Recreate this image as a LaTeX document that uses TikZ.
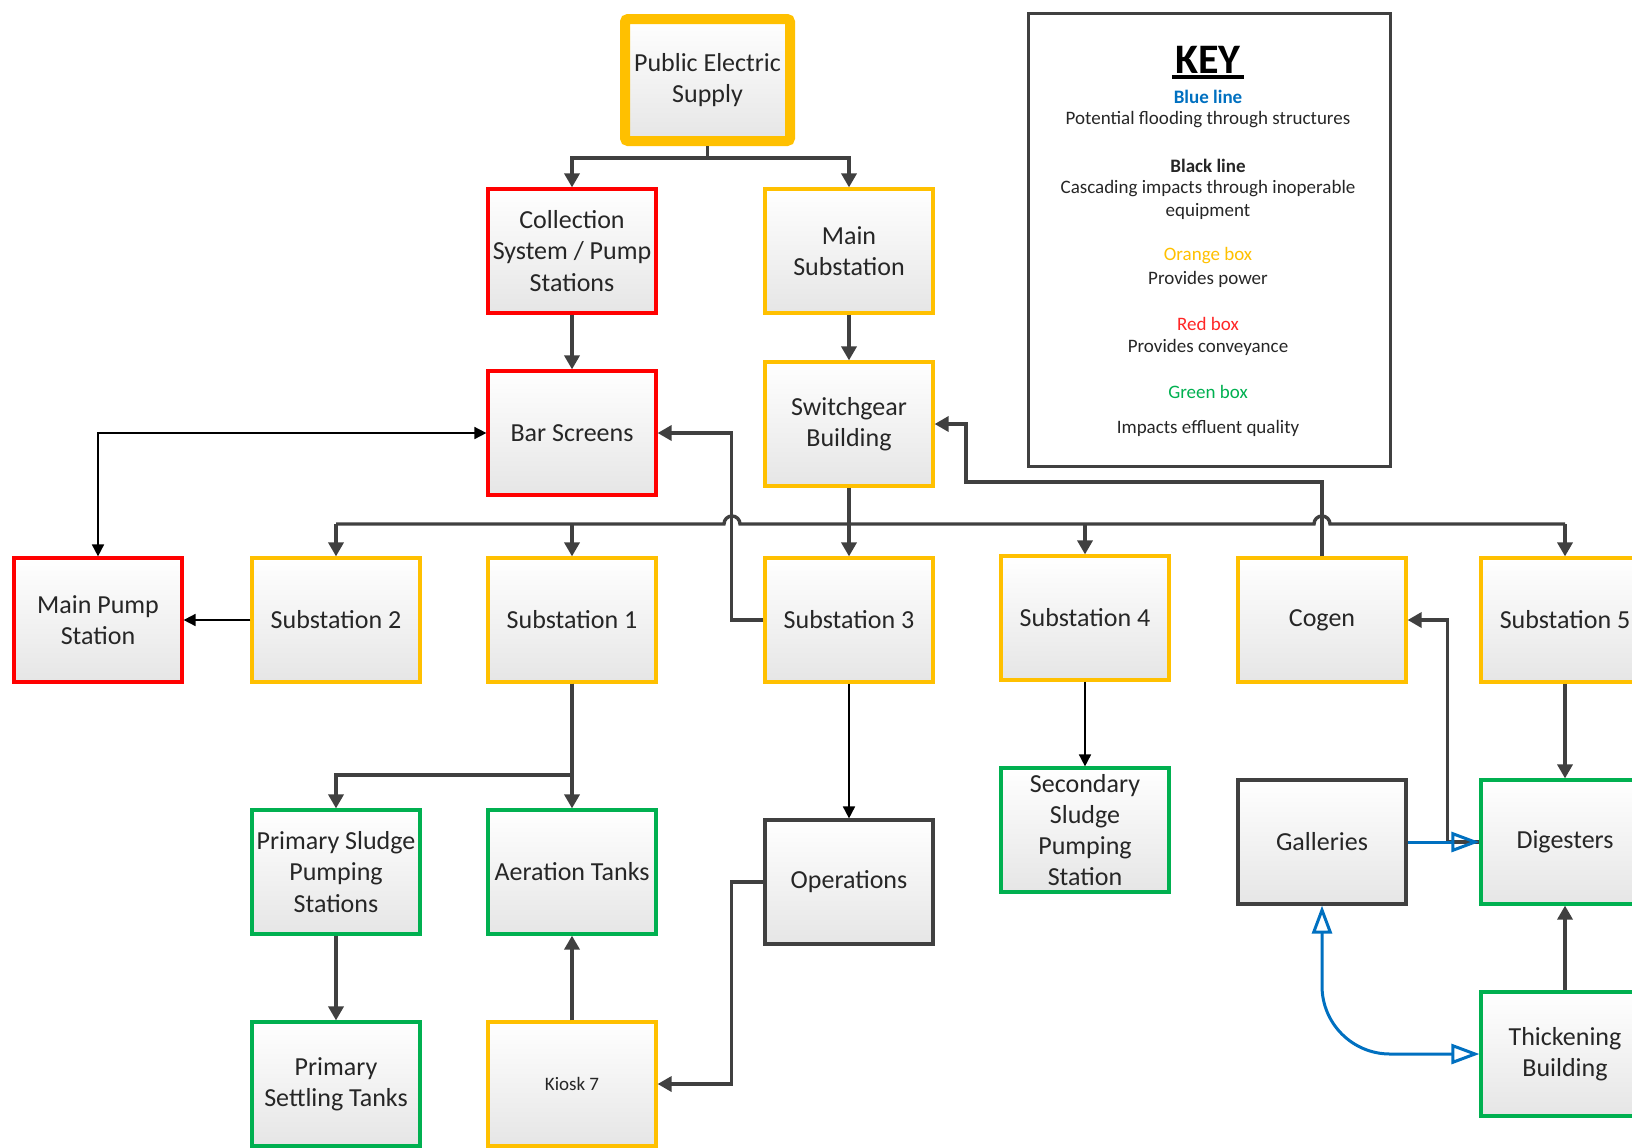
\documentclass[tikz,border=0pt]{standalone}
\usepackage{fontspec}
\setmainfont{Carlito}
\usepackage{tikz}
\usetikzlibrary{calc}
\usetikzlibrary{arrows.meta, positioning}
\usetikzlibrary{shadows}

\definecolor{powerorange}{RGB}{255,192,0}
\definecolor{conveyred}{RGB}{255,0,0}
\definecolor{effgreen}{RGB}{0,176,80}
\definecolor{floodblue}{RGB}{0,112,192}
\definecolor{linegray}{RGB}{64,64,64}
\definecolor{boxtext}{RGB}{38,38,38}

\begin{document}
\begin{tikzpicture}[x=0.5pt,y=0.5pt,yscale=-1,xscale=1,
  box/.style={draw, line width=1.6pt, minimum width=84pt, minimum height=62pt, inner sep=1pt, align=center, top color=white, bottom color=black!10, text=boxtext, font=\fontsize{13}{15.6}\selectfont, drop shadow={opacity=0.18, shadow xshift=1pt, shadow yshift=-1pt}},
  powerbox/.style={box, draw=powerorange},
  conveybox/.style={box, draw=conveyred},
  qualbox/.style={box, draw=effgreen},
  plainbox/.style={box, draw=linegray},
  cascade/.style={draw=linegray, line width=1.7pt, -{Triangle[length=7pt,width=7.5pt]}},
  cascadethin/.style={draw=black, line width=0.85pt, -{Triangle[length=6pt,width=6pt]}},
  flood/.style={draw=floodblue, line width=1.5pt, -{Triangle[open,length=14pt,width=10pt]}},
  keytext/.style={font=\fontsize{9.5}{11.5}\selectfont, text=black!85, inner sep=0pt, align=center}
]
\useasboundingbox (0,0) rectangle (1632,1147);
\clip (0,0) rectangle (1632,1147);

% Text Node
\node[powerbox, line width=5pt, rounded corners=1.5pt, minimum width=82.5pt, minimum height=61pt] (pes) at (707.5,80) {Public Electric\\Supply};
% Text Node
\node[conveybox] (coll) at (572,251) {Collection\\System / Pump\\Stations};
% Text Node
\node[powerbox] (mainsub) at (849,251) {Main\\Substation};
% Text Node
\node[conveybox] (bars) at (572,433) {Bar Screens};
% Text Node
\node[powerbox] (switch) at (849,424) {Switchgear\\Building};
% Text Node
\node[conveybox] (mps) at (98,620) {Main Pump\\Station};
\node[powerbox] (sub2) at (336,620) {Substation 2};
\node[powerbox] (sub1) at (572,620) {Substation 1};
\node[powerbox] (sub3) at (849,620) {Substation 3};
\node[powerbox] (sub4) at (1085,618) {Substation 4};
\node[powerbox] (cogen) at (1322,620) {Cogen};
\node[powerbox] (sub5) at (1565,620) {Substation 5};
% Text Node
\node[qualbox] (psps) at (336,872) {Primary Sludge\\Pumping\\Stations};
\node[qualbox] (aer) at (572,872) {Aeration Tanks};
\node[plainbox] (ops) at (849,882) {Operations};
\node[qualbox] (ssps) at (1085,830) {Secondary\\Sludge\\Pumping\\Station};
\node[plainbox] (gal) at (1322,842) {Galleries};
\node[qualbox] (dig) at (1565,842) {Digesters};
% Text Node
\node[qualbox] (pst) at (336,1084) {Primary\\Settling Tanks};
\node[powerbox, font=\fontsize{9.5}{11}\selectfont] (kiosk) at (572,1084) {Kiosk 7};
\node[qualbox] (thick) at (1565,1054) {Thickening\\Building};

% Key
\node[draw=black!75, line width=1.5pt, minimum width=181pt, minimum height=226.75pt, inner sep=0pt] (key) at (1209,240) {};
\node[font=\fontsize{21}{25}\selectfont\bfseries, text=black, inner sep=1.5pt] (keyt) at (1208,60) {KEY};
\draw[line width=1.6pt] (keyt.south west) -- (keyt.south east);
\node[keytext, text=floodblue, font=\fontsize{9.5}{11.5}\selectfont\bfseries] (kblue) at (1208,97) {Blue line};
\node[keytext] (kflood) at (1208,120) {Potential flooding through structures};
\node[keytext, font=\fontsize{9.5}{11.5}\selectfont\bfseries] (kblack) at (1208,165.5) {Black line};
\node[keytext] (kcasc) at (1208,199.5) {Cascading impacts through inoperable\\equipment};
\node[keytext, text=powerorange] (korange) at (1208,256) {Orange box};
\node[keytext] (kpower) at (1208,279) {Provides power};
\node[keytext, text=conveyred!85] (kred) at (1208,324) {Red box};
\node[keytext] (kconv) at (1208,347) {Provides conveyance};
\node[keytext, text=effgreen] (kgreen) at (1208,392) {Green box};
\node[keytext] (kqual) at (1208,428) {Impacts effluent quality};

% Coordinates
\coordinate (split) at (707.5,158);
\coordinate (bus) at (849,524);
\coordinate (cg) at (966,482);
\coordinate (sp1) at (572,775);

%Straight Lines
\draw[cascade] (pes.south) -- (split) -| (coll.north);
\draw[cascade] (split) -| (mainsub.north);
\draw[cascade] (coll) -- (bars);
\draw[cascade] (mainsub) -- (switch);
\draw[cascade] (switch) -- (sub3);
%Straight Lines
\draw[draw=linegray, line width=1.7pt] (sub2.north |- bus) -- (724,524) arc[start angle=180, end angle=360, radius=8] -- (1314,524) arc[start angle=180, end angle=360, radius=8] -- (sub5.north |- bus);
\draw[cascade] (sub2.north |- bus) -- (sub2.north);
\draw[cascade] (sub1.north |- bus) -- (sub1.north);
\draw[cascade] (sub4.north |- bus) -- (sub4.north);
\draw[cascade] (sub5.north |- bus) -- (sub5.north);
%Straight Lines
\draw[cascadethin, {Triangle[length=6pt,width=6pt]}-{Triangle[length=6pt,width=6pt]}] (mps.north) |- (bars.west);
\draw[cascadethin] (sub2) -- (mps);
\draw[cascade] (sub3.west) -- ++(-32,0) |- (bars.east);
\draw[cascade] (cogen.north) |- (cg) |- (switch.east);
%Straight Lines
\draw[cascade] (sub1) -- (aer);
\draw[cascade] (sub1.south) -- (sp1) -| (psps.north);
\draw[cascade] (psps) -- (pst);
\draw[cascade] (kiosk) -- (aer);
\draw[cascadethin] (sub3) -- (ops);
\draw[cascade] (ops.west) -- ++(-32,0) |- (kiosk.east);
\draw[cascadethin] (sub4) -- (ssps);
\draw[cascade] (sub5) -- (dig);
\draw[cascade] (thick) -- (dig);
\draw[cascade] (dig.west) -- ++(-32,0) |- (cogen.east);
%Flooding Lines
\draw[flood] (gal) -- (dig);
\draw[flood, {Triangle[open,length=14pt,width=10pt]}-{Triangle[open,length=14pt,width=10pt]}, rounded corners=34pt] (gal.south) |- (thick.west);

\end{tikzpicture}
\end{document}
